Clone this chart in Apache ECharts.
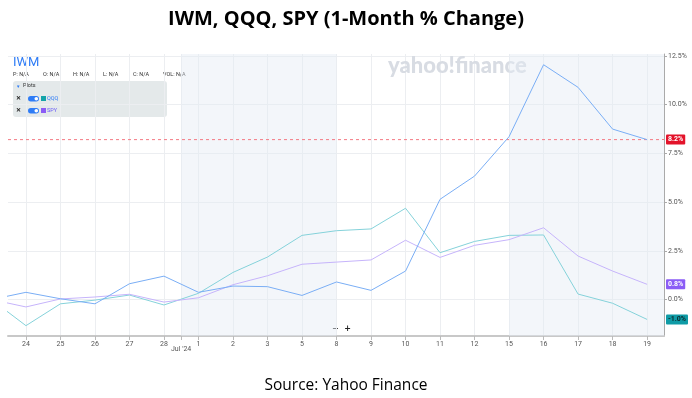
<!DOCTYPE html>
<html><head><meta charset="utf-8">
<script src="https://cdn.jsdelivr.net/npm/echarts@6/dist/echarts.min.js"></script>
<style>html,body{margin:0;padding:0;background:#fff}#c{width:692px;height:398px}</style>
</head><body><div id="c"></div>
<script>
// index 0 = Jun 21 (base, off-screen), 1..19 visible trading days
const dayLabels = ['21','24','25','26','27','28','1','2','3','5','8','9','10','11','12','15','16','17','18','19'];
const iwm = [0, 0.37, 0.04, -0.22, 0.81, 1.20, 0.37, 0.69, 0.66, 0.21, 0.90, 0.47, 1.46, 5.14, 6.33, 8.35, 12.04, 10.88, 8.74, 8.20];
const qqq = [0, -1.34, -0.22, -0.03, 0.23, -0.28, 0.32, 1.39, 2.18, 3.29, 3.53, 3.62, 4.68, 2.40, 2.98, 3.29, 3.31, 0.28, -0.19, -1.02];
const spy = [0, -0.38, 0.03, 0.13, 0.27, -0.13, 0.09, 0.76, 1.22, 1.81, 1.92, 2.03, 3.04, 2.16, 2.78, 3.07, 3.68, 2.23, 1.46, 0.78];
const yTicks = [0, 2.5, 5, 7.5, 10, 12.5];
const lastLabels = {iwm: '8.2%', qqq: '-1.0%', spy: '0.8%'};

const X_MIN = 0.48, X_MAX = 19.49;
const chart = echarts.init(document.getElementById('c'));
const pts = arr => arr.map((v, i) => [i, v]);
const visIdx = dayLabels.map((_, i) => i).filter(i => i > 0);
const iwmLast = iwm[iwm.length - 1];
const tagLabel = (txt, bg, fg) => ({
  show: true, position: 'end', formatter: txt, backgroundColor: bg, color: fg,
  fontSize: 7, fontWeight: 'bold', fontFamily: 'Roboto', padding: [2, 2, 1, 2], borderRadius: 1, distance: 2
});
chart.setOption({
  animation: false,
  title: [{
    text: 'IWM, QQQ, SPY (1-Month % Change)', left: 'center', top: 4,
    textStyle: {fontFamily: 'Open Sans', fontWeight: 'bold', fontSize: 20, color: '#000'}
  }, {
    text: 'Source: Yahoo Finance', left: 'center', top: 373,
    textStyle: {fontFamily: 'Open Sans', fontWeight: 'normal', fontSize: 15.5, color: '#000'}
  }],
  grid: {left: 8, right: 28, top: 54, bottom: 62},
  xAxis: {
    type: 'value', min: X_MIN, max: X_MAX,
    axisLine: {show: true, onZero: false, lineStyle: {color: '#c8c8c8', width: 2}},
    axisTick: {show: true, customValues: visIdx.concat([5.5]), length: 4, lineStyle: {color: '#bbb'}},
    axisLabel: {customValues: visIdx, formatter: v => dayLabels[Math.round(v)], fontSize: 7, color: '#555', fontFamily: 'Roboto', margin: 5},
    splitLine: {show: true, lineStyle: {color: '#eceef1', width: 1}}
  },
  yAxis: {
    type: 'value', position: 'right', min: -1.87, max: 12.59,
    axisLine: {show: true, onZero: false, lineStyle: {color: '#aaa', width: 1}},
    axisTick: {show: true, customValues: yTicks, length: 3, lineStyle: {color: '#aaa'}},
    axisLabel: {customValues: yTicks, formatter: v => v.toFixed(1) + '%', fontSize: 7, color: '#555', fontFamily: 'Roboto', margin: 4},
    splitLine: {show: true, lineStyle: {color: '#eceef1', width: 1}}
  },
  series: [{
    name: 'IWMlevel', type: 'line', data: [[X_MIN, iwmLast], [X_MAX, iwmLast]], symbol: 'none', z: 2,
    silent: true, lineStyle: {color: '#f47a84', type: [3, 3], width: 1}
  }, {
    name: 'IWM', type: 'line', data: pts(iwm), symbol: 'none', z: 4,
    lineStyle: {color: '#7aaef5', width: 1},
    markArea: {silent: true, itemStyle: {color: 'rgba(228,235,243,0.45)'},
      data: [[{xAxis: 5.5}, {xAxis: 10}], [{xAxis: 15}, {xAxis: X_MAX}]]},
    markLine: {silent: true, symbol: 'none', lineStyle: {color: 'rgba(0,0,0,0)', width: 0},
      label: tagLabel(lastLabels.iwm, '#e3132a', '#fff'),
      data: [{yAxis: iwmLast}]}
  }, {
    name: 'QQQ', type: 'line', data: pts(qqq), symbol: 'none', z: 3,
    lineStyle: {color: '#85d2da', width: 1},
    markLine: {silent: true, symbol: 'none', lineStyle: {color: 'rgba(0,0,0,0)', width: 0},
      label: tagLabel(lastLabels.qqq, '#0f9ba6', '#0b2a2c'),
      data: [{yAxis: qqq[qqq.length - 1]}]}
  }, {
    name: 'SPY', type: 'line', data: pts(spy), symbol: 'none', z: 3,
    lineStyle: {color: '#c6b4fb', width: 1},
    markLine: {silent: true, symbol: 'none', lineStyle: {color: 'rgba(0,0,0,0)', width: 0},
      label: tagLabel(lastLabels.spy, '#8b5cf6', '#fff'),
      data: [{yAxis: spy[spy.length - 1]}]}
  }],
  graphic: [
    {type: 'text', left: 388, top: 55, z: 1, style: {text: 'yahoo!finance', fontFamily: 'Lato', fontWeight: 900, fontSize: 22, fill: '#d8dce3'}},
    {type: 'text', left: 13, top: 56, style: {text: 'IWM', fontFamily: 'Roboto', fontSize: 13, fill: '#2e7cf6'}},
    {type: 'text', left: 13, top: 72, style: {text: 'P: N/A', fontFamily: 'Roboto', fontSize: 5.5, fill: '#333'}},
    {type: 'text', left: 43, top: 72, style: {text: 'O: N/A', fontFamily: 'Roboto', fontSize: 5.5, fill: '#333'}},
    {type: 'text', left: 73, top: 72, style: {text: 'H: N/A', fontFamily: 'Roboto', fontSize: 5.5, fill: '#333'}},
    {type: 'text', left: 103, top: 72, style: {text: 'L: N/A', fontFamily: 'Roboto', fontSize: 5.5, fill: '#333'}},
    {type: 'text', left: 133, top: 72, style: {text: 'C: N/A', fontFamily: 'Roboto', fontSize: 5.5, fill: '#333'}},
    {type: 'text', left: 163, top: 72, style: {text: 'VOL: N/A', fontFamily: 'Roboto', fontSize: 5.5, fill: '#333'}},
    {type: 'rect', left: 13, top: 81, shape: {width: 154, height: 36, r: 3}, style: {fill: '#e4e9ea'}},
    {type: 'text', left: 16, top: 84, style: {text: '▼', fontSize: 4.5, fill: '#2e7cf6'}},
    {type: 'text', left: 23, top: 83, style: {text: 'Plots', fontFamily: 'Roboto', fontSize: 5.5, fill: '#333'}},
    {type: 'text', left: 16, top: 95.5, style: {text: '✕', fontSize: 6, fontWeight: 'bold', fill: '#222'}},
    {type: 'rect', left: 28, top: 96, shape: {width: 11, height: 5.5, r: 2.75}, style: {fill: '#2e7cf6'}},
    {type: 'circle', left: 34.5, top: 97, shape: {r: 1.8}, style: {fill: '#fff'}},
    {type: 'rect', left: 41, top: 96, shape: {width: 5, height: 5}, style: {fill: '#13a3a8'}},
    {type: 'text', left: 47, top: 96, style: {text: 'QQQ', fontFamily: 'Roboto', fontSize: 5.5, fill: '#2e7cf6'}},
    {type: 'text', left: 16, top: 107, style: {text: '✕', fontSize: 6, fontWeight: 'bold', fill: '#222'}},
    {type: 'rect', left: 28, top: 108, shape: {width: 11, height: 5.5, r: 2.75}, style: {fill: '#2e7cf6'}},
    {type: 'circle', left: 34.5, top: 109, shape: {r: 1.8}, style: {fill: '#fff'}},
    {type: 'rect', left: 41, top: 108, shape: {width: 5, height: 5}, style: {fill: '#8b5cf6'}},
    {type: 'text', left: 47, top: 108, style: {text: 'SPY', fontFamily: 'Roboto', fontSize: 5.5, fill: '#6a5cf6'}},
    {type: 'text', left: 332, top: 325, style: {text: '−  +', fontFamily: 'DejaVu Sans', fontSize: 8, fontWeight: 'bold', fill: '#222'}},
    {type: 'text', left: 171, top: 346, style: {text: "Jul '24", fontFamily: 'Roboto', fontSize: 7, fill: '#555'}}
  ]
});
</script></body></html>
